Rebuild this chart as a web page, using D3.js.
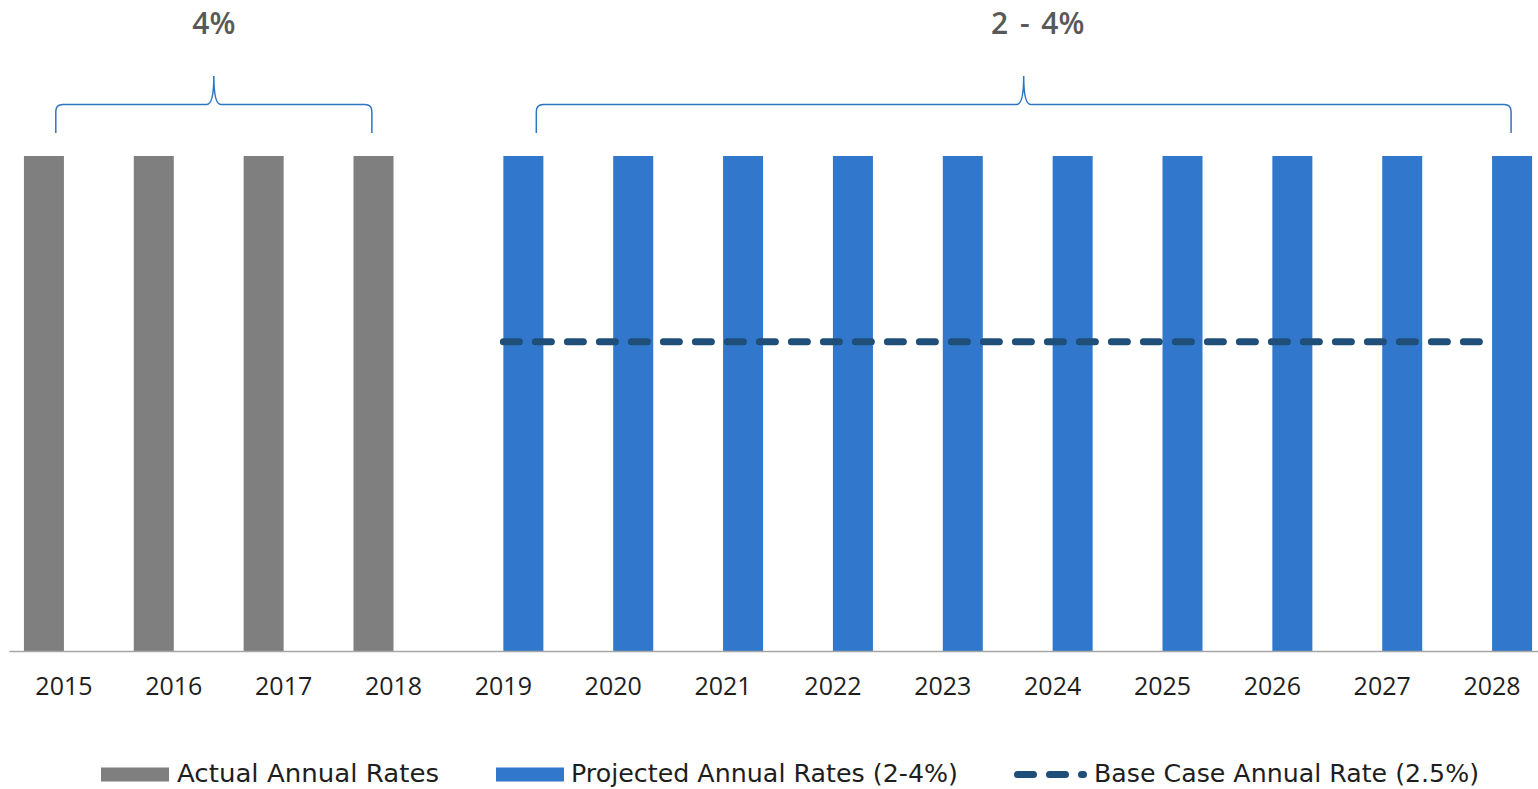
<!DOCTYPE html>
<html>
<head>
<meta charset="utf-8">
<script src="https://cdn.jsdelivr.net/npm/d3@7"></script>
<style>
  html, body { margin: 0; padding: 0; background: #fff; }
  svg { display: block; }
</style>
</head>
<body>
<svg id="chart" width="1538" height="789"></svg>
<script>
// Annual rates, 2015–2028 (percent)
const years = ["2015","2016","2017","2018","2019","2020","2021","2022","2023","2024","2025","2026","2027","2028"];
const actualRates    = [4, 4, 4, 4, null, null, null, null, null, null, null, null, null, null];
const projectedRates = [null, null, null, null, 4, 4, 4, 4, 4, 4, 4, 4, 4, 4];
const baseCaseRates  = [null, null, null, null, 2.5, 2.5, 2.5, 2.5, 2.5, 2.5, 2.5, 2.5, 2.5, 2.5];
const seriesKeys = ["actual", "projected"];
const seriesNames = ["Actual Annual Rates", "Projected Annual Rates (2-4%)", "Base Case Annual Rate (2.5%)"];
const rangeLabels = ["4%", "2 - 4%"];

const colors = { actual: "#7f7f7f", projected: "#3178cc", base: "#1f4e79", brace: "#2e75c0", axis: "#a6a6a6" };

const svg = d3.select("#chart");

const x = d3.scaleBand().domain(years).range([9, 1547]).paddingInner(0).paddingOuter(0);
const xSub = d3.scaleBand().domain(seriesKeys).range([0, x.bandwidth()]).paddingInner(0).paddingOuter(0.373);
const y = d3.scaleLinear().domain([0, 4]).range([651, 156]);
const cx = d => x(d) + x.bandwidth() / 2;

const rows = years.map((yr, i) => ({ year: yr, actual: actualRates[i], projected: projectedRates[i], base: baseCaseRates[i] }));

// Bars
const plot = svg.append("g");
seriesKeys.forEach(key => {
  plot.selectAll(null)
    .data(rows.filter(r => r[key] != null))
    .enter().append("rect")
    .attr("x", d => x(d.year) + xSub(key))
    .attr("y", d => y(d[key]))
    .attr("width", xSub.bandwidth())
    .attr("height", d => y(0) - y(d[key]))
    .attr("fill", colors[key]);
});

// Axis
const axis = svg.append("g")
  .attr("transform", `translate(0,${y(0)})`)
  .call(d3.axisBottom(x).tickSize(0).tickSizeOuter(0).tickPadding(26));
axis.select(".domain").attr("stroke", colors.axis).attr("stroke-width", 1.5);
axis.selectAll("text")
  .attr("font-family", "'Open Sans', 'Noto Sans', sans-serif")
  .attr("font-size", 25)
  .attr("fill", "#1e1e1e");

// Base case line
const baseLine = d3.line()
  .defined(d => d.base != null)
  .x(d => cx(d.year))
  .y(d => y(d.base));
svg.append("path")
  .datum(rows)
  .attr("d", baseLine)
  .attr("fill", "none")
  .attr("stroke", colors.base)
  .attr("stroke-width", 7)
  .attr("stroke-linecap", "round")
  .attr("stroke-dasharray", "16,16");

// Range braces with labels
function brace(x0, x1, tipX) {
  const yb = 133, yh = 104.5, yt = 76, r = 7;
  return `M${x0},${yb} L${x0},${yh + r} Q${x0},${yh} ${x0 + r},${yh} ` +
         `L${tipX - r},${yh} Q${tipX},${yh} ${tipX},${yt} ` +
         `Q${tipX},${yh} ${tipX + r},${yh} L${x1 - r},${yh} Q${x1},${yh} ${x1},${yh + r} L${x1},${yb}`;
}
const step = x.step();
const braces = [
  { x0: cx("2015") - 0.074 * step, x1: cx("2018") - 0.197 * step, label: rangeLabels[0], labelDx: 0 },
  { x0: cx("2019") + 0.30 * step, x1: cx("2028") + 0.173 * step, label: rangeLabels[1], labelDx: 14 }
];
braces.forEach(b => {
  const tip = (b.x0 + b.x1) / 2;
  svg.append("path")
    .attr("d", brace(b.x0, b.x1, tip))
    .attr("fill", "none")
    .attr("stroke", colors.brace)
    .attr("stroke-width", 1.5);
  svg.append("text")
    .attr("x", tip + b.labelDx)
    .attr("y", 34)
    .attr("text-anchor", "middle")
    .attr("font-family", "'Open Sans', 'Noto Sans', sans-serif")
    .attr("font-weight", 600)
    .attr("font-size", 30)
    .attr("word-spacing", 4)
    .attr("fill", "#595959")
    .text(b.label);
});

// Legend
const legendFont = "'DejaVu Sans', sans-serif";
const legend = svg.append("g");
const ly = 774.5;
const legendItems = [
  { type: "rect", color: colors.actual, sx: 101, tx: 177, tw: 262, name: seriesNames[0] },
  { type: "rect", color: colors.projected, sx: 496, tx: 571, tw: 387, name: seriesNames[1] },
  { type: "line", color: colors.base, sx: 1017.5, tx: 1094, tw: 385, name: seriesNames[2] }
];
legendItems.forEach(it => {
  if (it.type === "rect") {
    legend.append("rect")
      .attr("x", it.sx).attr("y", ly - 7)
      .attr("width", 68).attr("height", 14)
      .attr("fill", it.color);
  } else {
    legend.append("line")
      .attr("x1", it.sx).attr("x2", it.sx + 66)
      .attr("y1", ly).attr("y2", ly)
      .attr("stroke", it.color)
      .attr("stroke-width", 7)
      .attr("stroke-linecap", "round")
      .attr("stroke-dasharray", "16,16");
  }
  legend.append("text")
    .attr("x", it.tx)
    .attr("y", 782)
    .attr("font-family", legendFont)
    .attr("font-size", 25)
    .attr("fill", "#1e1e1e")
    .attr("textLength", it.tw)
    .attr("lengthAdjust", "spacingAndGlyphs")
    .text(it.name);
});
</script>
</body>
</html>
